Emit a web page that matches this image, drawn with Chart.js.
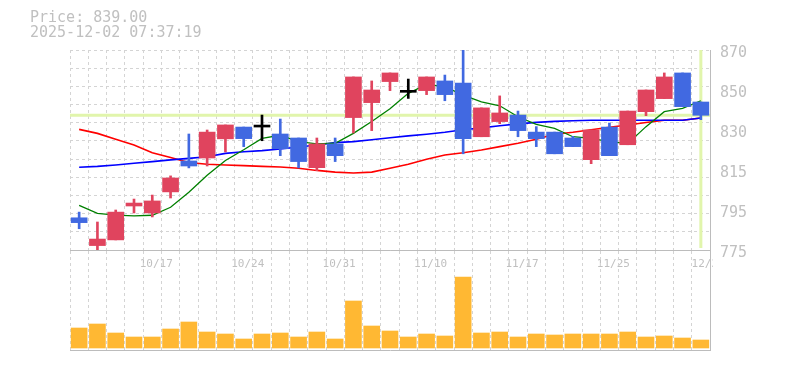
<!DOCTYPE html>
<html>
<head>
<meta charset="utf-8">
<script src="https://cdn.jsdelivr.net/npm/chart.js@4.4.1/dist/chart.umd.min.js"></script>
<style>
  body { margin: 0; background: #fff; }
  #wrap { position: relative; width: 785px; height: 370px; }
  canvas { position: absolute; left: 0; top: 0; }
  #info { position: absolute; left: 30px; top: 10px; font: 15px "DejaVu Sans Mono", monospace; line-height: 15px; color: #c0c0c0; white-space: pre; }
</style>
</head>
<body>
<div id="wrap">
  <canvas id="price" width="785" height="370"></canvas>
  <canvas id="volume" width="785" height="370"></canvas>
  <div id="info"></div>
</div>
<script>
// daily candles, 10/10 .. 12/2
const dates = ['10/10','10/14','10/15','10/16','10/17','10/20','10/21','10/22','10/23','10/24',
  '10/27','10/28','10/29','10/30','10/31','11/4','11/5','11/6','11/7','11/10',
  '11/11','11/12','11/13','11/14','11/17','11/18','11/19','11/20','11/21','11/25',
  '11/26','11/27','11/28','12/1','12/2'];
const opens  = [790.3,777.1,779.8,795.9,792.6,802.6,817.3,818.7,827.8,833.4,
  833.4,830.1,828.2,814.1,825.4,837.9,845,855,849.9,850.7,
  855.3,854.3,828.8,836,839.1,831,831,828.2,817.9,833.4,
  825,840.7,846.9,859.1,845.3];
const highs  = [793,788.3,794,799.2,801.1,810.2,830.1,832,834.4,833.4,
  839.1,837.2,828.2,828.2,828.2,857.2,855.3,859.1,856.2,857.2,
  858.1,870,842.5,848.2,841,833.6,831,829,832,835.3,
  841,851,859.1,859.1,845.3];
const lows   = [785.1,775,779.8,792.6,790.7,799.7,814,814.9,821.6,824.1,
  826.9,819.8,814,812.7,817,830.6,831.7,850.7,847,848.8,
  845.9,820.7,828.8,835,828.8,824.1,820.7,824.1,816,819.8,
  825,838.8,846.9,843.1,836.9];
const closes = [788,780.2,793,797.3,798.3,809.2,814.9,831,834.4,827.9,
  833.4,823.1,817,825.4,819.8,857.2,851,859.1,849.9,857.2,
  848.8,827.9,842.5,840.1,831.7,827.9,820.7,824.1,832,819.8,
  841,851,857.2,843.1,839];
// moving averages
const ma5  = [796.2,792.4,791.6,791.2,791.5,795.3,802.4,810.5,817.5,822.6,
  828,829.5,826.5,825.4,825.7,830.4,836,842.1,849.4,853.7,
  852.6,848.6,845.4,843.5,838.3,834.7,832.8,828.8,828,826.5,
  825.5,833.6,840.7,842.3,845.9];
const ma25 = [832.3,830.4,827.6,824.9,821.2,818.9,816.6,815.7,815.4,815.1,
  814.7,814.4,813.8,812.8,812,811.6,812,813.8,815.7,818.1,
  820.1,821.2,822.5,824.1,825.7,827.6,830,830.9,832.1,833.3,
  834.4,835.6,836.6,836.6,837.7];
const ma75 = [814.3,814.7,815.4,816.2,817,817.8,818.5,819.3,820.9,821.7,
  822.2,823,823.9,824.9,826,826.5,827.4,828.3,829.2,830,
  830.9,832.1,833,834,834.9,835.6,836.1,836.4,836.6,836.6,
  836.6,836.6,836.6,836.6,837.7];
// volume (thousand shares)
const volumes = [40,48,30,22,22,38,52,32,28,18,
  28,30,22,32,18,94,44,34,22,28,
  24,142,30,32,22,28,26,28,28,28,
  32,22,24,20,16];
const xTickLabels = ['10/17','10/24','10/31','11/10','11/17','11/25','12/2'];
const yTickLabels = ['775','795','815','830','850','870'];
const lastPrice = 839.00;
const stamp = '2025-12-02 07:37:19';

document.getElementById('info').textContent = 'Price: ' + lastPrice.toFixed(2) + '\n' + stamp;

const UP = 'rgb(224,68,94)', DOWN = 'rgb(65,105,225)', DOJI = '#000';
const GRID = '#d4d4d4', AXIS = '#bcbcbc', TEXT = '#c0c0c0';
const candleColors = opens.map((o, i) => closes[i] > o ? UP : (closes[i] < o ? DOWN : DOJI));

const crosshair = {
  id: 'crosshair',
  beforeDatasetsDraw(chart) {
    const {ctx, chartArea: a, scales: {x, y}} = chart;
    const py = y.getPixelForValue(lastPrice);
    const px = x.getPixelForValue(dates.length - 1);
    ctx.save();
    ctx.strokeStyle = 'rgb(225,245,172)';
    ctx.lineWidth = 3;
    ctx.beginPath();
    ctx.moveTo(a.left, py); ctx.lineTo(a.right, py);
    ctx.moveTo(px, a.top); ctx.lineTo(px, a.bottom - 2);
    ctx.stroke();
    ctx.restore();
  }
};

// date labels under the price panel, cut off at the right edge
const dateLabels = {
  id: 'dateLabels',
  afterDraw(chart) {
    const {ctx, chartArea: a, scales: {x}} = chart;
    ctx.save();
    ctx.beginPath();
    ctx.rect(a.left, a.bottom + 1, a.right - a.left + 3, 30);
    ctx.clip();
    ctx.font = '11px "DejaVu Sans Mono"';
    ctx.fillStyle = TEXT;
    ctx.textAlign = 'center';
    ctx.textBaseline = 'alphabetic';
    dates.forEach((d, i) => {
      if (xTickLabels.includes(d)) ctx.fillText(d, x.getPixelForValue(i) + 4, a.bottom + 16.5);
    });
    ctx.restore();
  }
};

new Chart(document.getElementById('price'), {
  type: 'bar',
  data: {
    labels: dates,
    datasets: [
      { type: 'bar', data: opens.map((o, i) => [o, closes[i]]), backgroundColor: candleColors,
        barThickness: 16, grouped: false, minBarLength: 2, order: 0, yAxisID: 'y' },
      { type: 'bar', data: lows.map((l, i) => [l, highs[i]]), backgroundColor: candleColors,
        barThickness: 2, grouped: false, order: 1, yAxisID: 'y' },
      { type: 'line', data: ma5, borderColor: '#008000', borderWidth: 1.3, pointRadius: 0, order: 2, yAxisID: 'y' },
      { type: 'line', data: ma75, borderColor: '#0000ff', borderWidth: 1.6, pointRadius: 0, order: 3, yAxisID: 'y' },
      { type: 'line', data: ma25, borderColor: '#ff0000', borderWidth: 1.6, pointRadius: 0, order: 4, yAxisID: 'y' }
    ]
  },
  options: {
    responsive: false,
    animation: false,
    events: [],
    layout: { padding: { top: 50, left: 70, right: 0, bottom: 120 } },
    plugins: { legend: { display: false }, tooltip: { enabled: false } },
    scales: {
      x: {
        ticks: { display: false },
        grid: { color: GRID, drawTicks: false },
        border: { display: true, color: AXIS, dash: [3, 3] },
        afterFit: s => { s.height = 0; }
      },
      yg: {
        position: 'left', min: 775, max: 870,
        ticks: { display: false, count: 12 },
        grid: { color: GRID, drawTicks: false },
        border: { display: false, dash: [3, 3] },
        afterFit: s => { s.width = 0; }
      },
      y: {
        position: 'right', min: 775, max: 870,
        ticks: { count: 6, padding: 10, color: TEXT, labelOffset: 3,
          font: { family: 'DejaVu Sans Mono', size: 15 },
          callback: (v, i) => yTickLabels[i] },
        grid: { display: false, drawTicks: false },
        border: { display: true, color: AXIS },
        afterFit: s => { s.width = 75; }
      }
    }
  },
  plugins: [crosshair, dateLabels]
});

new Chart(document.getElementById('volume'), {
  type: 'bar',
  data: {
    labels: dates,
    datasets: [
      { data: volumes, backgroundColor: 'rgb(255,184,51)', barThickness: 16 }
    ]
  },
  options: {
    responsive: false,
    animation: false,
    events: [],
    layout: { padding: { top: 251, left: 70, right: 0, bottom: 20 } },
    plugins: { legend: { display: false }, tooltip: { enabled: false } },
    scales: {
      x: {
        ticks: { display: false },
        grid: { color: GRID, drawTicks: false },
        border: { display: true, color: AXIS, dash: [3, 3] },
        afterFit: s => { s.height = 0; }
      },
      y: {
        position: 'right', min: -4, max: 194,
        ticks: { display: false },
        grid: { display: false, drawTicks: false },
        border: { display: true, color: AXIS },
        afterFit: s => { s.width = 75; }
      }
    }
  }
});
</script>
</body>
</html>
